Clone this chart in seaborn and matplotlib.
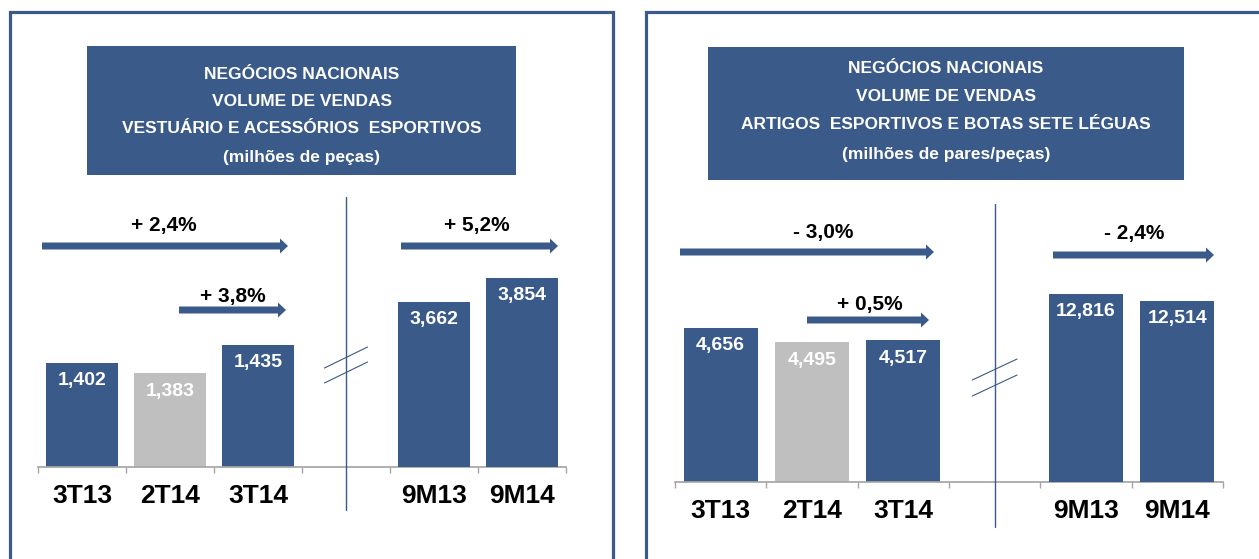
import numpy as np
import matplotlib
matplotlib.use("Agg")
import matplotlib.pyplot as plt
import seaborn as sns
from matplotlib.patches import Rectangle, FancyArrow
from matplotlib.lines import Line2D
from matplotlib.transforms import IdentityTransform, blended_transform_factory

# data (millions of pieces / pairs)
periods_q = ["3T13", "2T14", "3T14"]
periods_9m = ["9M13", "9M14"]
vest_q = [1.402, 1.383, 1.435]
vest_9m = [3.662, 3.854]
art_q = [4.656, 4.495, 4.517]
art_9m = [12.816, 12.514]

vest_title = ["NEGÓCIOS NACIONAIS", "VOLUME DE VENDAS",
              "VESTUÁRIO E ACESSÓRIOS  ESPORTIVOS", "(milhões de peças)"]
art_title = ["NEGÓCIOS NACIONAIS", "VOLUME DE VENDAS",
             "ARTIGOS  ESPORTIVOS E BOTAS SETE LÉGUAS", "(milhões de pares/peças)"]

BLUE = "#3A5A89"
GRAY = "#BFBFBF"
AXIS_GRAY = "#A6A6A6"
palette = {"3T13": BLUE, "2T14": GRAY, "3T14": BLUE, "9M13": BLUE, "9M14": BLUE}
order = periods_q + [" "] + periods_9m

sns.set_theme(style="white")
plt.rcParams["font.family"] = ["Liberation Sans Narrow", "Liberation Sans", "DejaVu Sans"]

W, H = 1259, 559
fig = plt.figure(figsize=(W / 100, H / 100), dpi=100)
ID = IdentityTransform()


def fmt_val(v):
    return f"{v:.3f}".replace(".", ",")


def fmt_pct(a, b):
    p = (b / a - 1) * 100
    sign = "+" if p >= 0 else "-"
    return f"{sign} {abs(p):.1f}%".replace(".", ",")


def arrow(x0, x1, y):
    fig.add_artist(FancyArrow(x0, H - y, x1 - x0, 0, width=7, head_width=15,
                              head_length=8, length_includes_head=True,
                              color=BLUE, lw=0, transform=ID))


def draw_panel(box, tbox, title, tbase, axr, vq, v9, lim_q, lim_9, sep_y, brk, pct):
    # outer frame
    fig.add_artist(Rectangle((box[0], H - 620), box[1] - box[0], 620 - box[2],
                             fill=False, ec=BLUE, lw=2.3, transform=ID))
    # title box
    x0, y0, x1, y1 = tbox
    fig.add_artist(Rectangle((x0, H - y1), x1 - x0, y1 - y0, color=BLUE, lw=0, transform=ID))
    for line, yb in zip(title, tbase):
        fig.text((x0 + x1) / 2, H - yb, line, transform=ID, ha="center", va="baseline",
                 color="white", fontsize=12.5, fontweight="bold")

    ax = fig.add_axes([axr[0] / W, 1 - axr[2] / H, (axr[1] - axr[0]) / W, (axr[2] - axr[3]) / H])
    sns.barplot(x=periods_q, y=vq, hue=periods_q, palette=palette, order=order,
                width=0.81, saturation=1, legend=False, ax=ax, linewidth=0)
    ax2 = ax.twinx()
    sns.barplot(x=periods_9m, y=v9, hue=periods_9m, palette=palette, order=order,
                width=0.81, saturation=1, legend=False, ax=ax2, linewidth=0)
    ax.set_ylim(*lim_q)
    ax2.set_ylim(*lim_9)
    ax.set_xlim(-0.5, 5.5)

    for a, cats, vals in [(ax, periods_q, vq), (ax2, periods_9m, v9)]:
        for c, v in zip(cats, vals):
            a.annotate(fmt_val(v), (order.index(c), v), xytext=(0, -18),
                       textcoords="offset pixels", ha="center", va="center",
                       color="white", fontsize=14, fontweight="bold")
        a.set_yticks([])
        a.set_ylabel("")
        for s in a.spines.values():
            s.set_visible(False)

    ax.set_facecolor("none")
    ax.spines["bottom"].set_visible(True)
    ax.spines["bottom"].set_color(AXIS_GRAY)
    ax.set_xlabel("")
    ax.set_xticks(range(len(order)))
    ax.set_xticklabels([c.strip() for c in order], fontsize=19, fontweight="bold")
    ax.set_xticks(np.arange(-0.5, len(order), 1), minor=True)
    ax.tick_params(axis="x", which="major", length=0, pad=12, colors="black")
    ax.tick_params(axis="x", which="minor", length=4, color=AXIS_GRAY, width=1, bottom=True)

    # separator and axis-break marks
    tr = blended_transform_factory(ax.transData, ID)
    sep = order.index(" ")
    fig.add_artist(Line2D([sep, sep], [H - sep_y[0], H - sep_y[1]], transform=tr,
                          color=BLUE, lw=1))
    for yb in brk:
        fig.add_artist(Line2D([sep - 0.245, sep + 0.245], [H - yb, H - yb + 21],
                              transform=tr, color=BLUE, lw=0.8))

    # growth arrows
    for (xa, xb, ya, xt, yt), txt in zip(pct, [fmt_pct(vq[0], vq[2]), fmt_pct(vq[1], vq[2]),
                                                fmt_pct(v9[0], v9[1])]):
        arrow(xa, xb, ya)
        fig.text(xt, H - yt, txt, transform=ID, ha="center", va="baseline",
                 fontsize=15, fontweight="bold", color="black")


draw_panel(box=(9.5, 612.5, 11.5), tbox=(87, 46, 516, 175), title=vest_title,
           tbase=(79, 106, 133, 162), axr=(38, 566, 467, 267),
           vq=vest_q, v9=vest_9m, lim_q=(1.212, 1.577), lim_9=(2.340, 3.940),
           sep_y=(197, 510), brk=(368, 383),
           pct=[(42, 288, 246, 164, 231), (179, 286, 310, 233, 302), (401, 558, 246, 477, 231)])

draw_panel(box=(646, 1300, 12), tbox=(708, 47, 1184, 180), title=art_title,
           tbase=(73, 101, 129, 159), axr=(675, 1223, 482, 282),
           vq=art_q, v9=art_9m, lim_q=(2.961, 5.156), lim_9=(4.700, 13.320),
           sep_y=(204, 527), brk=(380, 396),
           pct=[(680, 934, 252, 823, 238), (807, 929, 320, 870, 310), (1053, 1214, 255, 1134, 239)])

fig.savefig("out.png", dpi=100)
